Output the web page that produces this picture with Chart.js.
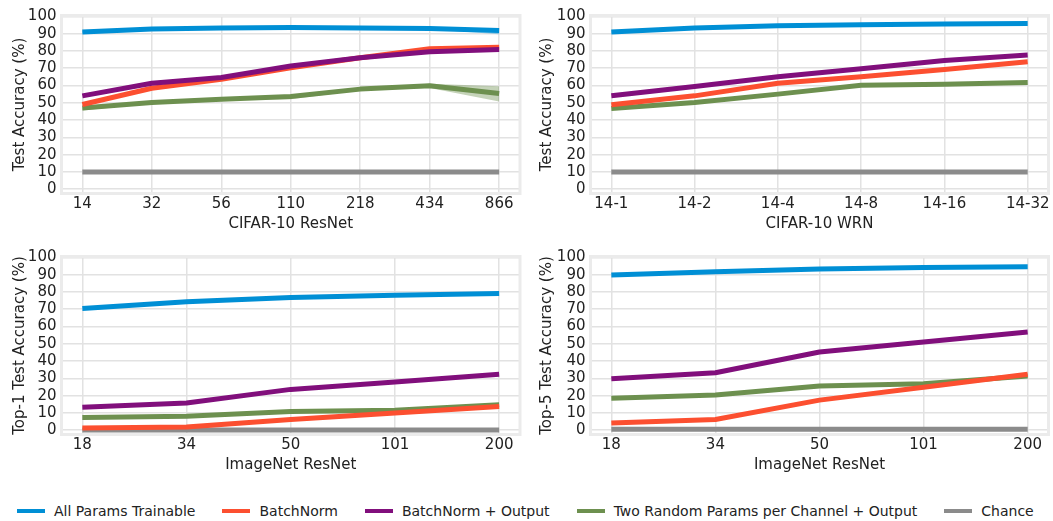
<!DOCTYPE html>
<html>
<head>
<meta charset="utf-8">
<script src="https://cdn.jsdelivr.net/npm/chart.js@4/dist/chart.umd.min.js"></script>
<style>
  html, body { margin: 0; padding: 0; background: #fff; }
  #wrap { position: relative; width: 1053px; height: 521px; overflow: hidden; }
  #wrap canvas { position: absolute; }
  #legend {
    position: absolute; left: 17px; top: 502px; height: 18px;
    display: flex; align-items: center;
    font-family: "DejaVu Sans", sans-serif; font-size: 14px; color: #222;
    line-height: 18px; white-space: nowrap;
  }
  #legend .item { display: flex; align-items: center; margin-right: 27px; }
  #legend .swatch { width: 28px; height: 4px; margin-right: 9px; }
</style>
</head>
<body>
<div id="wrap">
  <canvas id="c1" style="left:0;top:0"></canvas>
  <canvas id="c2" style="left:527px;top:0"></canvas>
  <canvas id="c3" style="left:0;top:241px"></canvas>
  <canvas id="c4" style="left:527px;top:241px"></canvas>
  <div id="legend"></div>
</div>
<script>
// series names + colours
var seriesNames = ["All Params Trainable", "BatchNorm", "BatchNorm + Output",
    "Two Random Params per Channel + Output", "Chance"];
var seriesColors = ["#008fd5", "#fc4f30", "#810f7c", "#6d904f", "#8b8b8b"];

// CIFAR-10 ResNet
var resnetLabels = ["14", "32", "56", "110", "218", "434", "866"];
var resnetAll = [91, 92.7, 93.3, 93.6, 93.3, 93, 91.8];
var resnetBN = [49, 58.4, 63.6, 70.3, 76, 81.2, 82.2];
var resnetBNOut = [54, 61.3, 64.6, 71.3, 76, 79.5, 80.8];
var resnetRandom = [47, 50.2, 52.1, 53.6, 57.9, 59.8, 55.4];
var resnetChance = [10, 10, 10, 10, 10, 10, 10];
// spread over runs (shaded)
var resnetAllLow = [90.5, 92.3, 93, 93.3, 93, 92.6, 89.7];
var resnetAllHigh = [91.5, 93, 93.6, 94, 93.6, 93.4, 93];
var resnetRandomLow = [45.5, 49.6, 51.5, 52, 57.3, 58.5, 50.8];
var resnetRandomHigh = [47.3, 50.7, 52.6, 54.6, 58.4, 61, 59.6];

// CIFAR-10 WRN
var wrnLabels = ["14-1", "14-2", "14-4", "14-8", "14-16", "14-32"];
var wrnAll = [91, 93.3, 94.6, 95.2, 95.6, 95.8];
var wrnBN = [48.9, 54, 61.3, 65.1, 69.3, 73.8];
var wrnBNOut = [54, 59.4, 65, 69.7, 74.5, 77.6];
var wrnRandom = [46.7, 50.2, 55, 60.2, 60.7, 61.7];
var wrnChance = [10, 10, 10, 10, 10, 10];

// ImageNet ResNet top-1
var imagenetLabels = ["18", "34", "50", "101", "200"];
var top1All = [70.4, 74.3, 76.8, 78.1, 79.1];
var top1BN = [1.2, 1.9, 6.2, 10, 13.7];
var top1BNOut = [13.3, 15.7, 23.6, 27.9, 32.3];
var top1Random = [7.4, 8.1, 10.8, 11.6, 14.7];
var top1Chance = [0.1, 0.1, 0.1, 0.1, 0.1];

// ImageNet ResNet top-5
var top5All = [89.8, 91.7, 93.2, 94.2, 94.6];
var top5BN = [4.2, 6.2, 17.4, 24.9, 32.4];
var top5BNOut = [29.7, 33.2, 45.2, 51, 56.8];
var top5Random = [18.5, 20.3, 25.5, 26.8, 31.3];
var top5Chance = [0.5, 0.5, 0.5, 0.5, 0.5];

var yTicks = [0, 10, 20, 30, 40, 50, 60, 70, 80, 90, 100];

Chart.defaults.font.family = "'DejaVu Sans', sans-serif";
Chart.defaults.font.size = 15;
Chart.defaults.color = "#222";

// light frame round the plot area
const framePlugin = {
    id: "frame",
    beforeDatasetsDraw(chart) {
        const ctx = chart.ctx, a = chart.chartArea;
        ctx.save();
        ctx.strokeStyle = "#ebebeb";
        ctx.lineWidth = 3;
        ctx.strokeRect(a.left, a.top, a.right - a.left, a.bottom - a.top);
        ctx.restore();
    }
};

function pts(values) {
    return values.map(function (v, i) { return { x: i, y: v }; });
}

// order: purple on top, gray at the bottom
var drawOrder = [4, 2, 1, 3, 5];

function lineSet(k, values) {
    return {
        label: seriesNames[k],
        data: pts(values),
        borderColor: seriesColors[k],
        backgroundColor: seriesColors[k],
        borderWidth: 5,
        pointRadius: 0,
        tension: 0,
        borderCapStyle: "butt",
        borderJoinStyle: "round",
        fill: false,
        order: drawOrder[k]
    };
}

function bandSets(low, high, color) {
    return [
        { data: pts(low), borderWidth: 0, pointRadius: 0, fill: false, order: 9 },
        { data: pts(high), borderWidth: 0, pointRadius: 0, fill: "-1", backgroundColor: color, order: 9 }
    ];
}

function makeChart(id, width, plotLeft, plotRight, labels, datasets, xTitle, yTitle) {
    var canvas = document.getElementById(id);
    canvas.width = width;
    canvas.height = 240;
    canvas.style.width = width + "px";
    canvas.style.height = "240px";
    var n = labels.length;
    var margin = 0.05 * (n - 1);
    return new Chart(canvas, {
        type: "line",
        data: { datasets: datasets },
        options: {
            responsive: false,
            animation: false,
            layout: { padding: { left: 0, right: width - plotRight, top: 15.5, bottom: 0 } },
            plugins: { legend: { display: false }, tooltip: { enabled: false } },
            scales: {
                x: {
                    type: "linear",
                    min: -margin,
                    max: n - 1 + margin,
                    afterBuildTicks: function (scale) {
                        scale.ticks = labels.map(function (_, i) { return { value: i }; });
                    },
                    afterFit: function (scale) { scale.height = 46.5; },
                    ticks: {
                        padding: 2,
                        maxRotation: 0,
                        autoSkip: false,
                        callback: function (v) { return labels[v]; }
                    },
                    grid: { color: "#e2e2e2", lineWidth: 1.5, drawTicks: false },
                    border: { display: false },
                    title: { display: true, text: xTitle, padding: { top: 0, bottom: 7 } }
                },
                y: {
                    min: -2.5,
                    max: 100.5,
                    afterBuildTicks: function (scale) {
                        scale.ticks = yTicks.map(function (v) { return { value: v }; });
                    },
                    afterFit: function (scale) { scale.width = plotLeft; },
                    ticks: { padding: 5, autoSkip: false },
                    grid: { color: "#e2e2e2", lineWidth: 1.5, drawTicks: false },
                    border: { display: false },
                    title: { display: true, text: yTitle, padding: { top: 11, bottom: 0 } }
                }
            }
        },
        plugins: [framePlugin]
    });
}

makeChart("c1", 527, 61.5, 520, resnetLabels,
    bandSets(resnetAllLow, resnetAllHigh, "rgba(0,143,213,0.35)")
        .concat(bandSets(resnetRandomLow, resnetRandomHigh, "rgba(109,144,79,0.4)"))
        .concat([lineSet(0, resnetAll), lineSet(1, resnetBN), lineSet(2, resnetBNOut),
            lineSet(3, resnetRandom), lineSet(4, resnetChance)]),
    "CIFAR-10 ResNet", "Test Accuracy (%)");

makeChart("c2", 526, 63.5, 521.5, wrnLabels,
    [lineSet(0, wrnAll), lineSet(1, wrnBN), lineSet(2, wrnBNOut),
        lineSet(3, wrnRandom), lineSet(4, wrnChance)],
    "CIFAR-10 WRN", "Test Accuracy (%)");

makeChart("c3", 527, 61.5, 520, imagenetLabels,
    [lineSet(0, top1All), lineSet(1, top1BN), lineSet(2, top1BNOut),
        lineSet(3, top1Random), lineSet(4, top1Chance)],
    "ImageNet ResNet", "Top-1 Test Accuracy (%)");

makeChart("c4", 526, 63.5, 521.5, imagenetLabels,
    [lineSet(0, top5All), lineSet(1, top5BN), lineSet(2, top5BNOut),
        lineSet(3, top5Random), lineSet(4, top5Chance)],
    "ImageNet ResNet", "Top-5 Test Accuracy (%)");

// shared legend underneath
var legend = document.getElementById("legend");
seriesNames.forEach(function (name, k) {
    var item = document.createElement("div");
    item.className = "item";
    var sw = document.createElement("span");
    sw.className = "swatch";
    sw.style.background = seriesColors[k];
    var txt = document.createElement("span");
    txt.textContent = name;
    item.appendChild(sw);
    item.appendChild(txt);
    legend.appendChild(item);
});
</script>
</body>
</html>
